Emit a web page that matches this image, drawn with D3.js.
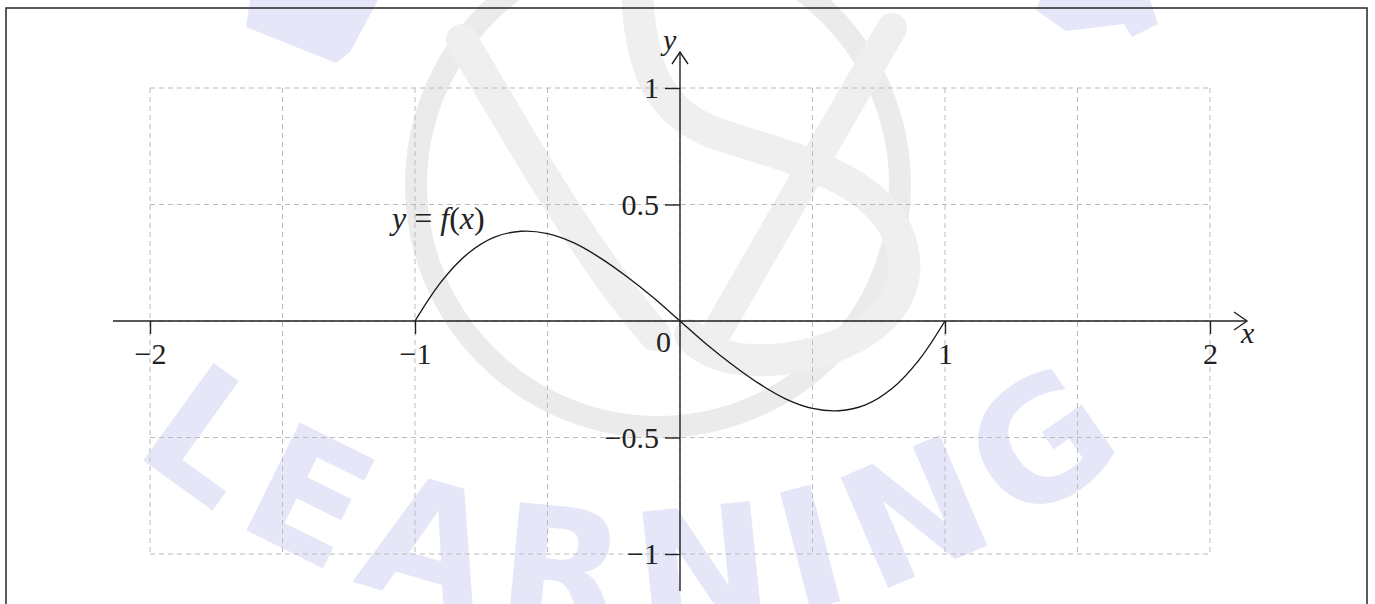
<!DOCTYPE html>
<html>
<head>
<meta charset="utf-8">
<title>y = f(x)</title>
<style>
  body { margin: 0; background: #fff; }
  text { font-family: "Liberation Serif", "Times New Roman", Times, serif; }
  .grid line { stroke: #bbbbbb; stroke-width: 1; stroke-dasharray: 5,4; }
  .axis line, .axis path { stroke: #222; stroke-width: 1.4; fill: none; }
</style>
<script src="https://d3js.org/d3.v7.min.js"></script>
</head>
<body>
<div id="chart"></div>
<script>
// tick values and grid
var xTicks = [-2, -1, 1, 2];
var yTicks = [-1, -0.5, 0.5, 1];
var gridX = [-2, -1.5, -1, -0.5, 0, 0.5, 1, 1.5, 2];
var gridY = [-1, -0.5, 0, 0.5, 1];

var curveX = [-1, -0.9, -0.8, -0.7, -0.6, -0.5, -0.4, -0.3, -0.2, -0.1, 0, 0.1, 0.2, 0.3, 0.4, 0.5, 0.6, 0.7, 0.8, 0.9, 1];
var curveY = [0, 0.17, 0.29, 0.36, 0.385, 0.375, 0.335, 0.27, 0.19, 0.1, 0, -0.1, -0.19, -0.27, -0.335, -0.375, -0.385, -0.36, -0.29, -0.17, 0];

var W = 1375, H = 604;
var serif = "'Liberation Serif', 'Times New Roman', Times, serif";

var svg = d3.select("#chart").append("svg")
  .attr("width", W)
  .attr("height", H);

svg.append("rect").attr("width", W).attr("height", H).attr("fill", "#fff");

var x = d3.scaleLinear().domain([-2, 2]).range([150, 1210]);
var y = d3.scaleLinear().domain([-1, 1]).range([554, 88]);

/* faint watermark behind the plot */
var wm = svg.append("g").attr("class", "watermark");
var blue = "#e5e7f9", grey = "#ebebeb", grey2 = "#efefef";

wm.append("polygon")
  .attr("points", "250,0 378,0 350,52 336,63 246,27")
  .attr("fill", blue);
wm.append("polygon")
  .attr("points", "1040,0 1150,0 1158,24 1132,37 1124,24 1066,31 1036,10")
  .attr("fill", blue);

var arcR = 780, cx0 = 630, cy0 = -150, a0 = 46 * Math.PI / 180;
wm.append("path")
  .attr("id", "wmArc")
  .attr("fill", "none")
  .attr("d", "M" + (cx0 - arcR * Math.sin(a0)) + "," + (cy0 + arcR * Math.cos(a0)) +
    " A" + arcR + "," + arcR + " 0 0 0 " + (cx0 + arcR * Math.sin(a0)) + "," + (cy0 + arcR * Math.cos(a0)));
wm.append("text")
  .style("font-family", "'DejaVu Sans', sans-serif")
  .style("font-weight", "bold")
  .style("font-size", "165px")
  .attr("fill", blue)
  .append("textPath")
  .attr("href", "#wmArc")
  .attr("startOffset", "50%")
  .attr("text-anchor", "middle")
  .attr("textLength", 1080)
  .attr("lengthAdjust", "spacing")
  .text("LEARNING");

wm.append("circle")
  .attr("cx", 658).attr("cy", 185).attr("r", 242)
  .attr("fill", "none").attr("stroke", grey).attr("stroke-width", 22);
wm.append("path")
  .attr("d", "M462,40 C520,140 590,260 655,335")
  .attr("fill", "none").attr("stroke", grey2).attr("stroke-width", 32).attr("stroke-linecap", "round");
wm.append("line")
  .attr("x1", 892).attr("y1", 28).attr("x2", 715).attr("y2", 335)
  .attr("stroke", grey2).attr("stroke-width", 30).attr("stroke-linecap", "round");
wm.append("path")
  .attr("d", "M637,-10 C640,70 660,115 720,135 C800,160 880,180 900,240 C920,300 870,345 790,358 C740,365 705,355 690,335")
  .attr("fill", "none").attr("stroke", grey2).attr("stroke-width", 32).attr("stroke-linecap", "round");

/* dashed grid */
var grid = svg.append("g").attr("class", "grid");
grid.selectAll(".gx").data(gridX).enter().append("line")
  .attr("x1", d => x(d)).attr("x2", d => x(d))
  .attr("y1", y(1)).attr("y2", y(-1));
grid.selectAll(".gy").data(gridY).enter().append("line")
  .attr("y1", d => y(d)).attr("y2", d => y(d))
  .attr("x1", x(-2)).attr("x2", x(2));

/* axes */
var fmt = d => d3.format("")(d).replace("-", "\u2212");

var xAxis = d3.axisBottom(x).tickValues(xTicks).tickSize(13).tickPadding(9).tickFormat(fmt);
var gx = svg.append("g").attr("class", "axis")
  .attr("transform", "translate(0," + y(0) + ")")
  .call(xAxis);
gx.select(".domain").remove();
gx.selectAll("text").attr("fill", "#222").style("font-family", serif).style("font-size", "30px");

var yAxis = d3.axisLeft(y).tickValues(yTicks).tickSize(15).tickPadding(6).tickFormat(fmt);
var gy = svg.append("g").attr("class", "axis")
  .attr("transform", "translate(" + x(0) + ",0)")
  .call(yAxis);
gy.select(".domain").remove();
gy.selectAll("text").attr("fill", "#222").style("font-family", serif).style("font-size", "30px");

var axes = svg.append("g").attr("class", "axis");
// x axis line + open arrow head
axes.append("path").attr("d", "M113," + y(0) + "H1247");
axes.append("path").attr("d", "M1234," + (y(0) - 9) + "L1247," + y(0) + "L1234," + (y(0) + 9));
// y axis line + open arrow head
axes.append("path").attr("d", "M" + x(0) + ",591V52");
axes.append("path").attr("d", "M" + (x(0) - 8) + ",64L" + x(0) + ",52L" + (x(0) + 8) + ",64");

svg.append("text").attr("x", 1241).attr("y", 343)
  .style("font-size", "30px").style("font-style", "italic").attr("fill", "#222").text("x");
svg.append("text").attr("x", 663).attr("y", 50)
  .style("font-size", "30px").style("font-style", "italic").attr("fill", "#222").text("y");
svg.append("text").attr("x", 671).attr("y", 352).attr("text-anchor", "end")
  .style("font-size", "30px").attr("fill", "#222").text("0");

/* the curve */
var pts = curveX.map((d, i) => [d, curveY[i]]);
var line = d3.line()
  .x(d => x(d[0]))
  .y(d => y(d[1]))
  .curve(d3.curveCatmullRom.alpha(0.5));
svg.append("path")
  .attr("d", line(pts))
  .attr("fill", "none")
  .attr("stroke", "#1a1a1a")
  .attr("stroke-width", 1.4);

var lbl = svg.append("text").attr("x", 392).attr("y", 229)
  .style("font-size", "32px").attr("fill", "#222");
lbl.append("tspan").style("font-style", "italic").text("y");
lbl.append("tspan").text(" = ");
lbl.append("tspan").style("font-style", "italic").text("f");
lbl.append("tspan").text("(");
lbl.append("tspan").style("font-style", "italic").text("x");
lbl.append("tspan").text(")");

/* frame */
svg.append("rect")
  .attr("x", 6).attr("y", 8).attr("width", 1361).attr("height", 640)
  .attr("fill", "none").attr("stroke", "#333").attr("stroke-width", 1.6);
</script>
</body>
</html>
